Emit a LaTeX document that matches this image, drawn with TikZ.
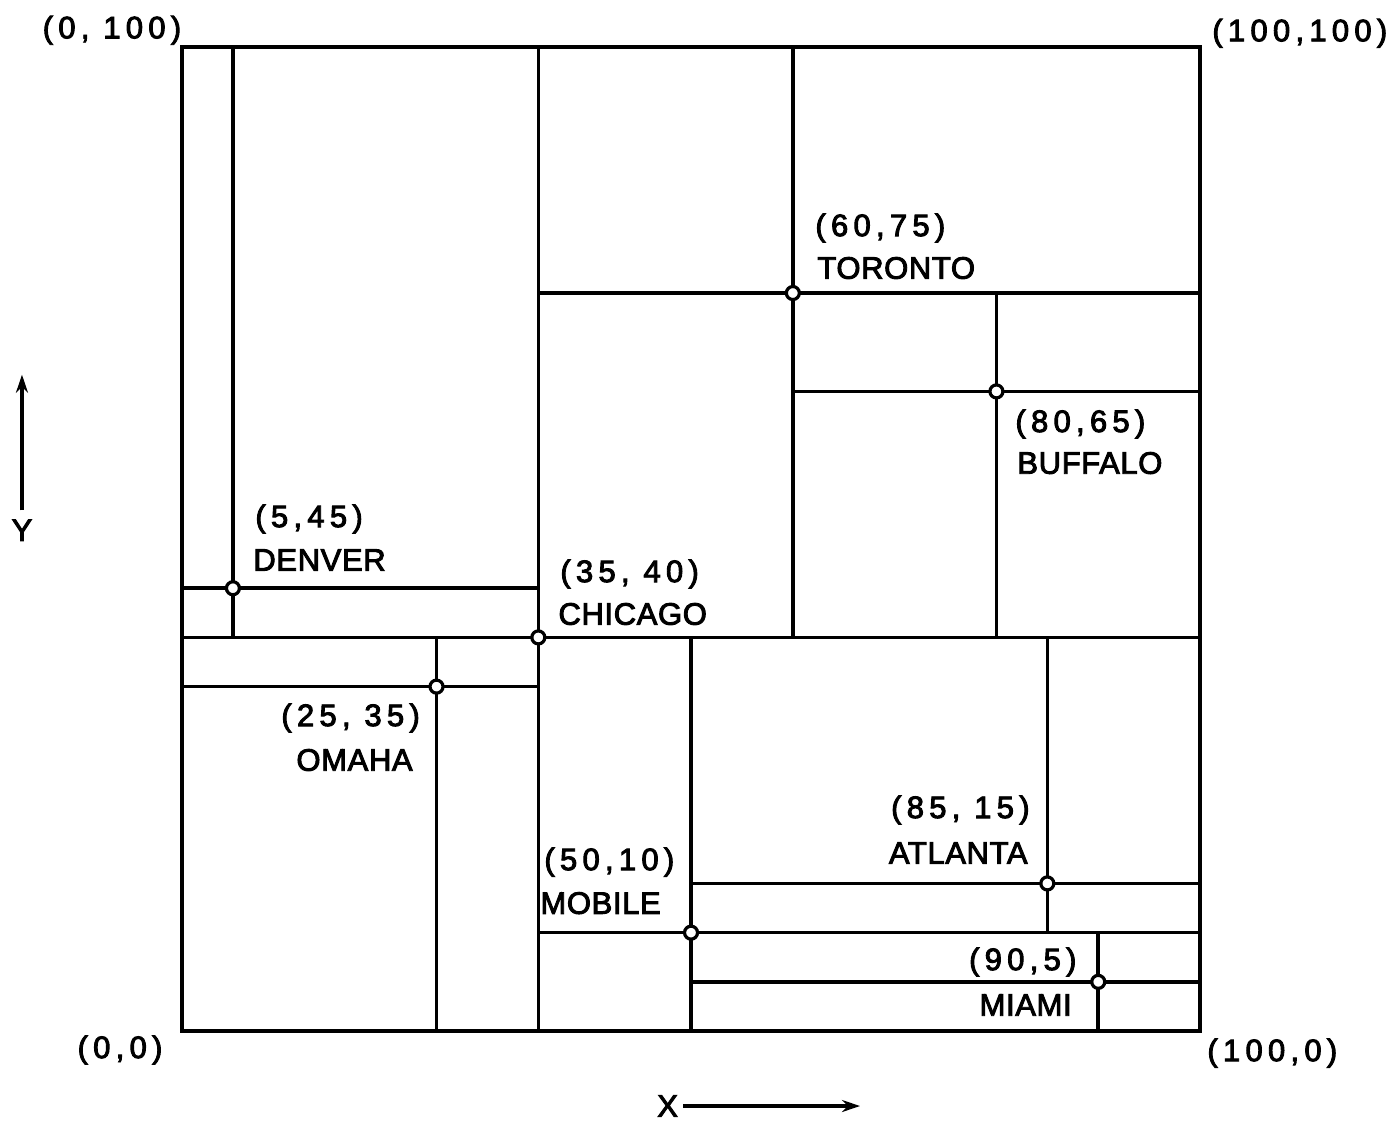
\documentclass[tikz,border=0pt]{standalone}
\usepackage{fontspec}
\newfontfamily\labfont[LetterSpace=2,FakeBold=3]{Liberation Sans}
\newfontfamily\numfont[LetterSpace=17,FakeBold=3]{Liberation Sans}
\usetikzlibrary{arrows.meta}
\begin{document}
\begin{tikzpicture}[x=5.09pt,y=4.92pt,
  part/.style={line width=1.8pt},
  city/.style={circle,draw,line width=1.6pt,fill=white,inner sep=0pt,minimum size=6.5pt},
  lab/.style={font=\fontsize{15.5}{18}\labfont,inner sep=0pt,text=black},
  num/.style={font=\fontsize{15.5}{18}\numfont,inner sep=0pt,text=black},
  axis/.style={line width=1.8pt,-{Stealth[length=9pt,width=6pt]}}]
\useasboundingbox[fill=white] (-17.88,-9.45) rectangle (119.25,104.78);
% corners
\coordinate (sw) at (0,0);
\coordinate (se) at (100,0);
\coordinate (nw) at (0,100);
\coordinate (ne) at (100,100);
\draw[part] (sw) rectangle (ne);
% Chicago (35,40)
\coordinate (chiN) at (35,100); \coordinate (chiS) at (35,0);
\coordinate (chiW) at (0,40);   \coordinate (chiE) at (100,40);
\draw[part] (chiN) -- (chiS) (chiW) -- (chiE);
% Denver (5,45)
\coordinate (denN) at (5,100); \coordinate (denS) at (5,40);
\coordinate (denW) at (0,45);  \coordinate (denE) at (35,45);
\draw[part] (denN) -- (denS) (denW) -- (denE);
% Omaha (25,35)
\coordinate (omaN) at (25,40); \coordinate (omaS) at (25,0);
\coordinate (omaW) at (0,35);  \coordinate (omaE) at (35,35);
\draw[part] (omaN) -- (omaS) (omaW) -- (omaE);
% Toronto (60,75)
\coordinate (torN) at (60,100); \coordinate (torS) at (60,40);
\coordinate (torW) at (35,75);  \coordinate (torE) at (100,75);
\draw[part] (torN) -- (torS) (torW) -- (torE);
% Buffalo (80,65)
\coordinate (bufN) at (80,75); \coordinate (bufS) at (80,40);
\coordinate (bufW) at (60,65); \coordinate (bufE) at (100,65);
\draw[part] (bufN) -- (bufS) (bufW) -- (bufE);
% Mobile (50,10)
\coordinate (mobN) at (50,40); \coordinate (mobS) at (50,0);
\coordinate (mobW) at (35,10); \coordinate (mobE) at (100,10);
\draw[part] (mobN) -- (mobS) (mobW) -- (mobE);
% Atlanta (85,15)
\coordinate (atlN) at (85,40); \coordinate (atlS) at (85,10);
\coordinate (atlW) at (50,15); \coordinate (atlE) at (100,15);
\draw[part] (atlN) -- (atlS) (atlW) -- (atlE);
% Miami (90,5)
\coordinate (miaN) at (90,10); \coordinate (miaS) at (90,0);
\coordinate (miaW) at (50,5);  \coordinate (miaE) at (100,5);
\draw[part] (miaN) -- (miaS) (miaW) -- (miaE);
% city points
\node[city] (chi) at (35,40) {};
\node[city] (den) at (5,45) {};
\node[city] (oma) at (25,35) {};
\node[city] (tor) at (60,75) {};
\node[city] (buf) at (80,65) {};
\node[city] (mob) at (50,10) {};
\node[city] (atl) at (85,15) {};
\node[city] (mia) at (90,5) {};
% city labels
\node[num,anchor=west] (torC) at (62.18,81.6) {(60,75)};
\node[lab,anchor=west] (torT) at (62.38,77.54) {TORONTO};
\node[num,anchor=west] (bufC) at (81.83,61.69) {(80,65)};
\node[lab,anchor=west] (bufT) at (82.02,57.72) {BUFFALO};
\node[num,anchor=west] (denC) at (7.17,52.03) {(5,45)};
\node[lab,anchor=west] (denT) at (6.97,47.87) {DENVER};
\node[num,anchor=west] (chiC) at (37.13,46.44) {(35, 40)};
\node[lab,anchor=west] (chiT) at (36.94,42.38) {CHICAGO};
\node[num,anchor=east] (omaC) at (23.4,31.81) {(25, 35)};
\node[lab,anchor=east] (omaT) at (22.69,27.54) {OMAHA};
\node[num,anchor=east] (atlC) at (83.3,22.46) {(85, 15)};
\node[lab,anchor=east] (atlT) at (83.1,18.09) {ATLANTA};
\node[num,anchor=west] (mobC) at (35.56,17.17) {(50,10)};
\node[lab,anchor=west] (mobT) at (35.17,13.0) {MOBILE};
\node[num,anchor=east] (miaC) at (87.9,7.01) {(90,5)};
\node[lab,anchor=east] (miaT) at (87.43,2.64) {MIAMI};
% corner labels
\node[num] (c1) at (-6.88,101.7) {(0, 100)};
\node[num] (c2) at (109.8,101.4) {(100,100)};
\node[num] (c3) at (-6.09,-1.93) {(0,0)};
\node[num] (c4) at (107.1,-2.24) {(100,0)};
% axes
\node[lab] (ylab) at (-15.72,50.9) {Y};
\coordinate (ytip) at (-15.72,66.7);
\draw[axis] (ylab.north) ++(0,0.9) -- (ytip);
\node[lab] (xlab) at (47.7,-7.62) {X};
\coordinate (xtip) at (66.6,-7.62);
\draw[axis] (xlab.east) ++(0.5,0) -- (xtip);
\end{tikzpicture}
\end{document}
